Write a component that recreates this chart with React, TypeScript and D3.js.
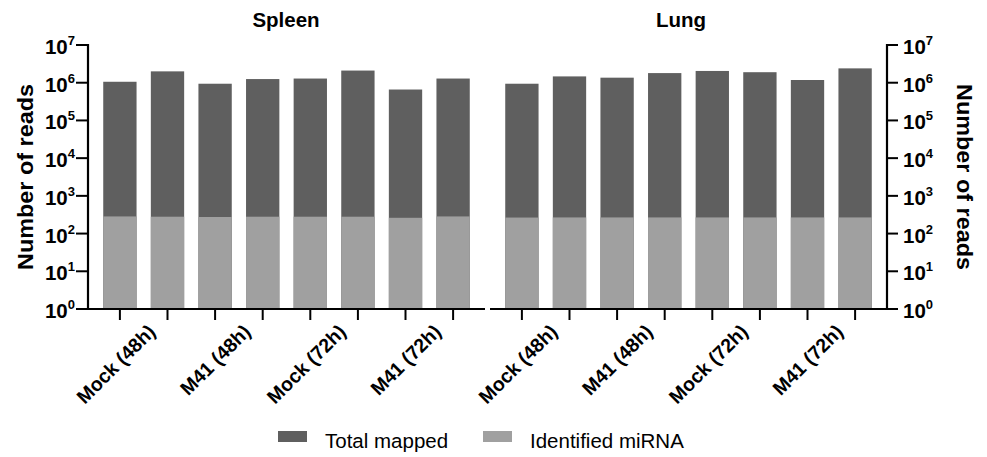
import React from 'react';
import * as d3 from 'd3';

// two replicates per condition, 8 bars per tissue
const conditions = ['Mock (48h)', 'M41 (48h)', 'Mock (72h)', 'M41 (72h)'];
const samples = ['S1', 'S2', 'S3', 'S4', 'S5', 'S6', 'S7', 'S8'];

const spleenTotal = [1.06e6, 2.0e6, 0.94e6, 1.25e6, 1.29e6, 2.1e6, 0.66e6, 1.29e6];
const spleenMirna = [285, 280, 275, 280, 280, 280, 262, 285];
const lungTotal = [0.94e6, 1.47e6, 1.36e6, 1.8e6, 2.05e6, 1.9e6, 1.18e6, 2.4e6];
const lungMirna = [266, 268, 268, 268, 268, 268, 268, 268];

const tickExponents = [0, 1, 2, 3, 4, 5, 6, 7];
const legendItems = ['Total mapped', 'Identified miRNA'];

const W = 987;
const H = 457;
const DARK = '#5f5f5f';
const LIGHT = '#a0a0a0';
const FONT = '"Liberation Sans", Arial, Helvetica, sans-serif';

const top = 45;
const bottom = 309;

const y = d3.scaleLog().domain([1, 1e7]).range([bottom, top]);

function Panel({ title, x0, x1, total, mirna, titleX }: {
  title: string; x0: number; x1: number; total: number[]; mirna: number[]; titleX: number;
}) {
  const x = d3.scaleBand<string>().domain(samples).range([x0, x1]).paddingInner(0.3).paddingOuter(0.32);
  const bw = x.bandwidth();
  return (
    <g>
      <text x={titleX} y={27} textAnchor="middle" fontSize={20.5} fontWeight="bold">{title}</text>
      {samples.map((s, i) => (
        <g key={s}>
          <rect x={x(s)} y={y(total[i])} width={bw} height={y(1) - y(total[i])} fill={DARK} />
          <rect x={x(s)} y={y(mirna[i])} width={bw} height={y(1) - y(mirna[i])} fill={LIGHT} />
          <line x1={x(s)! + bw / 2} x2={x(s)! + bw / 2} y1={bottom} y2={bottom + 11} stroke="#000" strokeWidth={2} />
        </g>
      ))}
      {conditions.map((c, i) => {
        const cx = (x(samples[2 * i])! + x(samples[2 * i + 1])! + bw) / 2;
        return (
          <text key={c} transform={`translate(${cx + 13},${bottom + 24}) rotate(-45)`}
            textAnchor="end" fontSize={19.5} fontWeight="bold">{c}</text>
        );
      })}
      <line x1={x0} x2={x1} y1={bottom} y2={bottom} stroke="#000" strokeWidth={2.2} />
    </g>
  );
}

export default function App() {
  const leftAxis = 88;
  const rightAxis = 887;
  return (
    <svg width={W} height={H} style={{ position: 'absolute', left: 0, top: 0, background: '#fff' }}
      fontFamily={FONT}>
      <Panel title="Spleen" x0={leftAxis} x1={485} total={spleenTotal} mirna={spleenMirna} titleX={286} />
      <Panel title="Lung" x0={490} x1={rightAxis} total={lungTotal} mirna={lungMirna} titleX={681} />

      {/* left y axis */}
      <line x1={leftAxis} x2={leftAxis} y1={top - 1} y2={bottom + 1} stroke="#000" strokeWidth={2.2} />
      {tickExponents.map((e) => (
        <g key={'l' + e}>
          <line x1={leftAxis - 12} x2={leftAxis} y1={y(10 ** e)} y2={y(10 ** e)} stroke="#000" strokeWidth={2} />
          <text x={75} y={y(10 ** e) + 9} textAnchor="end" fontSize={20.5} fontWeight="bold">
            10<tspan dy={-9} fontSize={13}>{e}</tspan>
          </text>
        </g>
      ))}
      <text transform={`translate(33,177) rotate(-90)`} textAnchor="middle" fontSize={22} fontWeight="bold"
        textLength={186} lengthAdjust="spacingAndGlyphs">Number of reads</text>

      {/* right y axis */}
      <line x1={rightAxis} x2={rightAxis} y1={top - 1} y2={bottom + 1} stroke="#000" strokeWidth={2.2} />
      {tickExponents.map((e) => (
        <g key={'r' + e}>
          <line x1={rightAxis} x2={rightAxis + 11} y1={y(10 ** e)} y2={y(10 ** e)} stroke="#000" strokeWidth={2} />
          <text x={903} y={y(10 ** e) + 9} textAnchor="start" fontSize={20.5} fontWeight="bold">
            10<tspan dy={-9} fontSize={13}>{e}</tspan>
          </text>
        </g>
      ))}
      <text transform={`translate(957,177) rotate(90)`} textAnchor="middle" fontSize={22} fontWeight="bold"
        textLength={186} lengthAdjust="spacingAndGlyphs">Number of reads</text>

      {/* legend */}
      {legendItems.map((l, i) => {
        const lx = i === 0 ? 278 : 483;
        return (
          <g key={l}>
            <rect x={lx} y={431} width={29} height={11} fill={i === 0 ? DARK : LIGHT} />
            <text x={lx + 47} y={448} fontSize={20.5}>{l}</text>
          </g>
        );
      })}
    </svg>
  );
}
